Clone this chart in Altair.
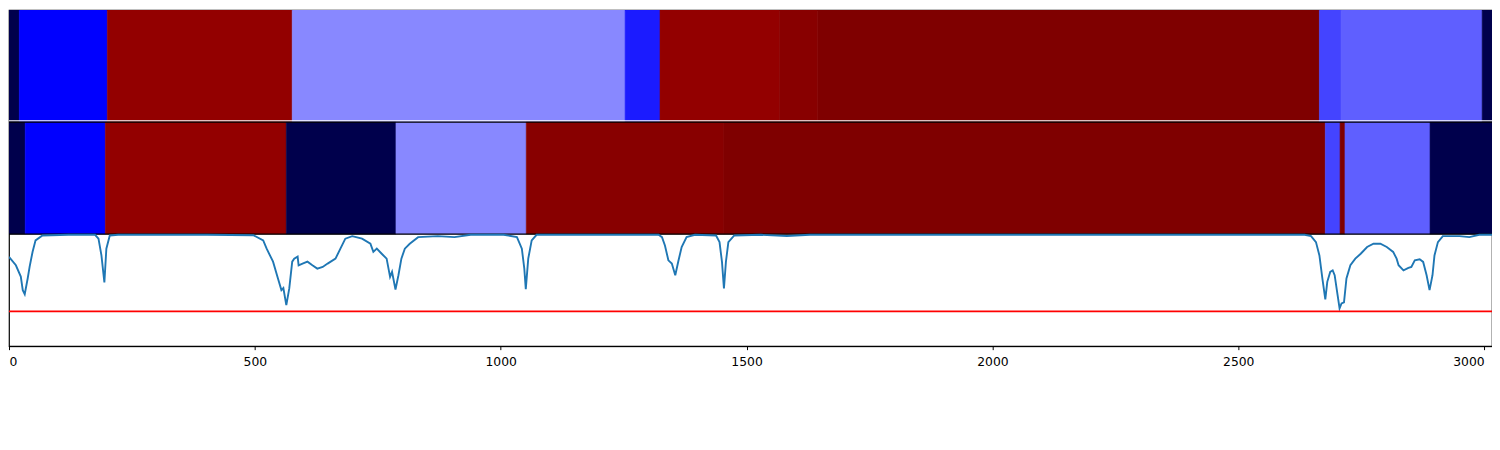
import altair as alt
import pandas as pd

# ---- strip 1 (top): segment bounds and colour values (seismic colormap, 0..1)
top_start = [0, 21, 200, 576, 1253, 1324, 1567, 1645, 2665, 2709, 2996]
top_end = [21, 200, 576, 1253, 1324, 1567, 1645, 2665, 2709, 2996, 3030]
top_value = [0.0, 0.25, 0.96, 0.383, 0.276, 0.96, 0.983, 1.0, 0.317, 0.343, 0.0]

# ---- strip 2 (middle)
mid_start = [0, 33, 196, 564, 787, 1052, 1454, 2677, 2707, 2717, 2890]
mid_end = [33, 196, 564, 787, 1052, 1454, 2677, 2707, 2717, 2890, 3030]
mid_value = [0.0, 0.25, 0.96, 0.0, 0.383, 0.983, 1.0, 0.317, 1.0, 0.343, 0.0]

# ---- line panel (bottom)
line_x = [0, 14, 24, 28, 32, 38, 42, 48, 54, 68, 121, 175, 182, 188, 194, 198, 205, 222,
          403, 497, 517, 524, 537, 547, 554, 558, 564, 570, 576, 580, 587, 589, 597, 607,
          617, 627, 638, 648, 664, 674, 684, 698, 718, 735, 741, 748, 758, 768, 775, 779,
          786, 792, 798, 805, 815, 832, 872, 906, 939, 1006, 1033, 1043, 1048, 1051, 1056,
          1063, 1073, 1207, 1321, 1328, 1334, 1341, 1348, 1355, 1361, 1368, 1378, 1395,
          1438, 1445, 1450, 1454, 1458, 1463, 1475, 1529, 1582, 1629, 2011, 2635, 2648,
          2658, 2665, 2671, 2677, 2681, 2687, 2692, 2696, 2702, 2706, 2710, 2715, 2720,
          2728, 2738, 2749, 2762, 2775, 2789, 2802, 2815, 2822, 2826, 2836, 2846, 2852,
          2859, 2869, 2876, 2883, 2889, 2895, 2899, 2906, 2916, 2950, 2970, 2990, 3017]
line_y = [0.796, 0.722, 0.621, 0.500, 0.464, 0.604, 0.710, 0.843, 0.944, 0.988, 0.994, 0.994,
          0.959, 0.810, 0.568, 0.870, 0.988, 0.994, 0.994, 0.990, 0.944, 0.870, 0.754, 0.604,
          0.500, 0.519, 0.367, 0.515, 0.754, 0.781, 0.799, 0.722, 0.737, 0.754, 0.722, 0.692,
          0.707, 0.737, 0.781, 0.870, 0.959, 0.982, 0.959, 0.914, 0.841, 0.870, 0.825, 0.781,
          0.619, 0.663, 0.506, 0.633, 0.781, 0.870, 0.914, 0.973, 0.982, 0.973, 0.994, 0.994,
          0.973, 0.870, 0.692, 0.509, 0.781, 0.944, 0.994, 0.994, 0.994, 0.973, 0.899, 0.766,
          0.737, 0.633, 0.754, 0.885, 0.973, 0.994, 0.988, 0.929, 0.752, 0.515, 0.752, 0.929,
          0.988, 0.994, 0.983, 0.994, 0.994, 0.994, 0.982, 0.929, 0.810, 0.604, 0.417, 0.574,
          0.663, 0.677, 0.633, 0.455, 0.337, 0.382, 0.391, 0.604, 0.722, 0.781, 0.825, 0.885,
          0.914, 0.914, 0.885, 0.841, 0.781, 0.722, 0.677, 0.698, 0.707, 0.766, 0.775, 0.752,
          0.633, 0.500, 0.633, 0.810, 0.929, 0.982, 0.982, 0.973, 0.994, 0.994]
threshold = [0.31]

# panel bands on the shared vertical scale: line panel 0..1, middle 1..2, top 2..3
band_lo = {"top": 2, "mid": 1}
panel_edges = [1, 2]
gap_edges = [2]
tick_values = [0, 500, 1000, 1500, 2000, 2500, 3000]

rows = []
for name, s, e, v in (("top", top_start, top_end, top_value),
                      ("mid", mid_start, mid_end, mid_value)):
    for a, b, c in zip(s, e, v):
        rows.append({"start": a, "end": b, "value": c,
                     "lo": band_lo[name], "hi": band_lo[name] + 1})
seg_df = pd.DataFrame(rows)
line_df = pd.DataFrame({"x": line_x, "y": line_y})
thr_df = pd.DataFrame({"t": threshold})
edge_df = pd.DataFrame({"e": panel_edges})
gap_df = pd.DataFrame({"e": gap_edges})

x_scale = alt.Scale(domain=[0, 3016], nice=False, zero=False)
y_scale = alt.Scale(domain=[0, 3], nice=False, zero=False)
x_axis = alt.Axis(values=tick_values, format="d", title=None, grid=False, tickSize=3.5,
                  labelPadding=6, labelFontSize=12.4, labelFont="DejaVu Sans",
                  labelColor="black", tickColor="black", domainColor="black",
                  tickWidth=1, domainWidth=1, labelFlush=12, labelOverlap=False)

seismic = alt.Scale(domain=[0, 0.25, 0.5, 0.75, 1.0],
                    range=["#00004c", "#0000ff", "#ffffff", "#ff0000", "#7f0000"],
                    interpolate="rgb")

rects = alt.Chart(seg_df).mark_rect(clip=True, strokeWidth=0.6).encode(
    x=alt.X("start:Q", scale=x_scale, axis=x_axis),
    x2="end:Q",
    y=alt.Y("lo:Q", scale=y_scale, axis=None),
    y2="hi:Q",
    color=alt.Color("value:Q", scale=seismic, legend=None),
    stroke=alt.Stroke("value:Q", scale=seismic, legend=None),
)

gap = alt.Chart(gap_df).mark_rule(color="white", strokeWidth=1.2, yOffset=-1.2).encode(
    y=alt.Y("e:Q", scale=y_scale, axis=None)
)

edges = alt.Chart(edge_df).mark_rule(color="black", strokeWidth=1.2).encode(
    y=alt.Y("e:Q", scale=y_scale, axis=None)
)

line = alt.Chart(line_df).mark_line(color="#1f77b4", strokeWidth=1.9, clip=True).encode(
    x=alt.X("x:Q", scale=x_scale, axis=x_axis),
    y=alt.Y("y:Q", scale=y_scale, axis=None),
)

thr = alt.Chart(thr_df).mark_rule(color="#ff0000", strokeWidth=1.7).encode(
    y=alt.Y("t:Q", scale=y_scale, axis=None)
)

chart = alt.layer(rects, gap, edges, line, thr).properties(
    width=1491, height=338,
    autosize=alt.AutoSizeParams(type="none"),
    padding={"left": 1, "top": 1, "right": 0, "bottom": 30},
).configure_view(stroke="black", strokeWidth=1.2)

chart.save("out.html", embed_options={"renderer": "svg", "actions": False})
